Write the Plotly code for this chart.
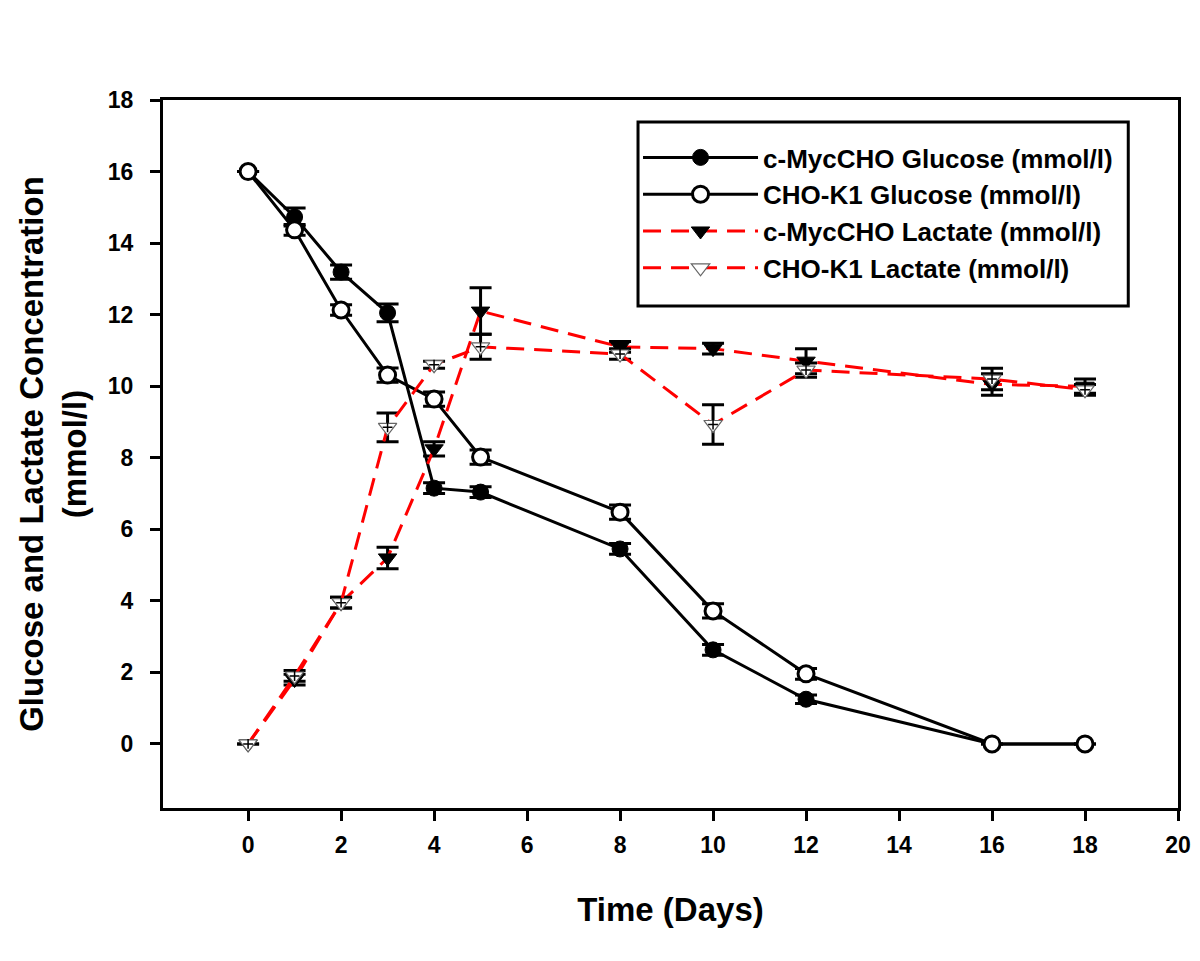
import plotly.graph_objects as go

days = [0, 1, 2, 3, 4, 5, 8, 10, 12, 16, 18]

myc_glucose = [16.0, 14.73, 13.19, 12.05, 7.15, 7.04, 5.45, 2.63, 1.25, 0.0, 0.0]
myc_glucose_err = [0.0, 0.25, 0.2, 0.25, 0.15, 0.15, 0.15, 0.15, 0.12, 0.0, 0.0]

k1_glucose = [16.0, 14.37, 12.13, 10.31, 9.64, 8.02, 6.48, 3.72, 1.96, 0.0, 0.0]
k1_glucose_err = [0.0, 0.15, 0.15, 0.2, 0.2, 0.2, 0.2, 0.2, 0.15, 0.0, 0.0]

myc_lactate = [0.0, 1.8, 3.95, 5.2, 8.25, 12.1, 11.1, 11.05, 10.7, 10.05, 10.0]
myc_lactate_err = [0.0, 0.15, 0.15, 0.3, 0.2, 0.65, 0.15, 0.15, 0.35, 0.3, 0.2]

k1_lactate = [0.0, 1.9, 3.95, 8.85, 10.6, 11.1, 10.9, 8.93, 10.45, 10.2, 9.9]
k1_lactate_err = [0.0, 0.15, 0.15, 0.4, 0.1, 0.35, 0.15, 0.55, 0.2, 0.3, 0.15]

x_ticks = [0, 2, 4, 6, 8, 10, 12, 14, 16, 18, 20]
y_ticks = [0, 2, 4, 6, 8, 10, 12, 14, 16, 18]

FONT = "Liberation Sans, Arial, sans-serif"

def err(vals):
    return dict(type="data", array=vals, visible=True, color="black", thickness=3, width=11)

fig = go.Figure()

fig.add_trace(go.Scatter(
    x=days, y=myc_glucose, mode="lines+markers", name="c-MycCHO Glucose (mmol/l)",
    line=dict(color="black", width=3),
    marker=dict(symbol="circle", size=16, color="black", line=dict(color="black", width=1)),
    error_y=err(myc_glucose_err),
))
fig.add_trace(go.Scatter(
    x=days, y=k1_glucose, mode="lines+markers", name="CHO-K1 Glucose (mmol/l)",
    line=dict(color="black", width=3),
    marker=dict(symbol="circle", size=16, color="white", line=dict(color="black", width=3)),
    error_y=err(k1_glucose_err),
))
fig.add_trace(go.Scatter(
    x=days, y=myc_lactate, mode="lines+markers", name="c-MycCHO Lactate (mmol/l)",
    line=dict(color="#ff0000", width=3, dash="18px,10px"),
    marker=dict(symbol="triangle-down", size=16, color="black", line=dict(color="black", width=1)),
    error_y=err(myc_lactate_err),
))
fig.add_trace(go.Scatter(
    x=days, y=k1_lactate, mode="lines+markers", name="CHO-K1 Lactate (mmol/l)",
    line=dict(color="#ff0000", width=3, dash="18px,10px"),
    marker=dict(symbol="triangle-down", size=16, color="white", line=dict(color="#666666", width=1.2)),
    error_y=err(k1_lactate_err),
))
fig.add_trace(go.Scatter(
    x=days, y=k1_lactate, mode="markers", showlegend=False, hoverinfo="skip",
    marker=dict(symbol="cross-thin", size=7, color="black", line=dict(color="black", width=1.5)),
))

# legend frame
fig.add_shape(type="rect", xref="paper", yref="paper",
              x0=0.468, x1=0.951, y0=0.709, y1=0.969,
              line=dict(color="black", width=3), fillcolor="white", layer="below")

fig.update_layout(
    width=1200, height=961,
    paper_bgcolor="white", plot_bgcolor="rgba(0,0,0,0)",
    margin=dict(l=155, r=30, t=92, b=161),
    font=dict(family=FONT, color="black"),
    showlegend=True,
    legend=dict(
        x=0.468, y=0.952, xanchor="left", yanchor="top",
        borderwidth=0, bgcolor="rgba(0,0,0,0)",
        font=dict(family=FONT, size=26, color="black", weight="bold"),
        itemwidth=115, tracegroupgap=0,
    ),
    xaxis=dict(
        range=[-1.83, 20], tickvals=x_ticks, ticktext=[str(v) for v in x_ticks],
        showgrid=False, zeroline=False, showline=True, linecolor="black", linewidth=3,
        mirror=True, ticks="outside", ticklen=10, tickwidth=3, tickcolor="black",
        ticklabelstandoff=4,
        tickfont=dict(family=FONT, size=23, color="black", weight="bold"),
        title=dict(text="Time (Days)", font=dict(family=FONT, size=33, color="black", weight="bold"), standoff=42),
    ),
    yaxis=dict(
        range=[-1.79, 18], tickvals=y_ticks, ticktext=[str(v) for v in y_ticks],
        showgrid=False, zeroline=False, showline=True, linecolor="black", linewidth=3,
        mirror=True, ticks="outside", ticklen=10, tickwidth=3, tickcolor="black",
        ticklabelstandoff=12,
        tickfont=dict(family=FONT, size=23, color="black", weight="bold"),
        title=dict(text="Glucose and Lactate Concentration<br>(mmol/l)",
                   font=dict(family=FONT, size=33, color="black", weight="bold"), standoff=12),
    ),
)

fig.write_html("out.html")
